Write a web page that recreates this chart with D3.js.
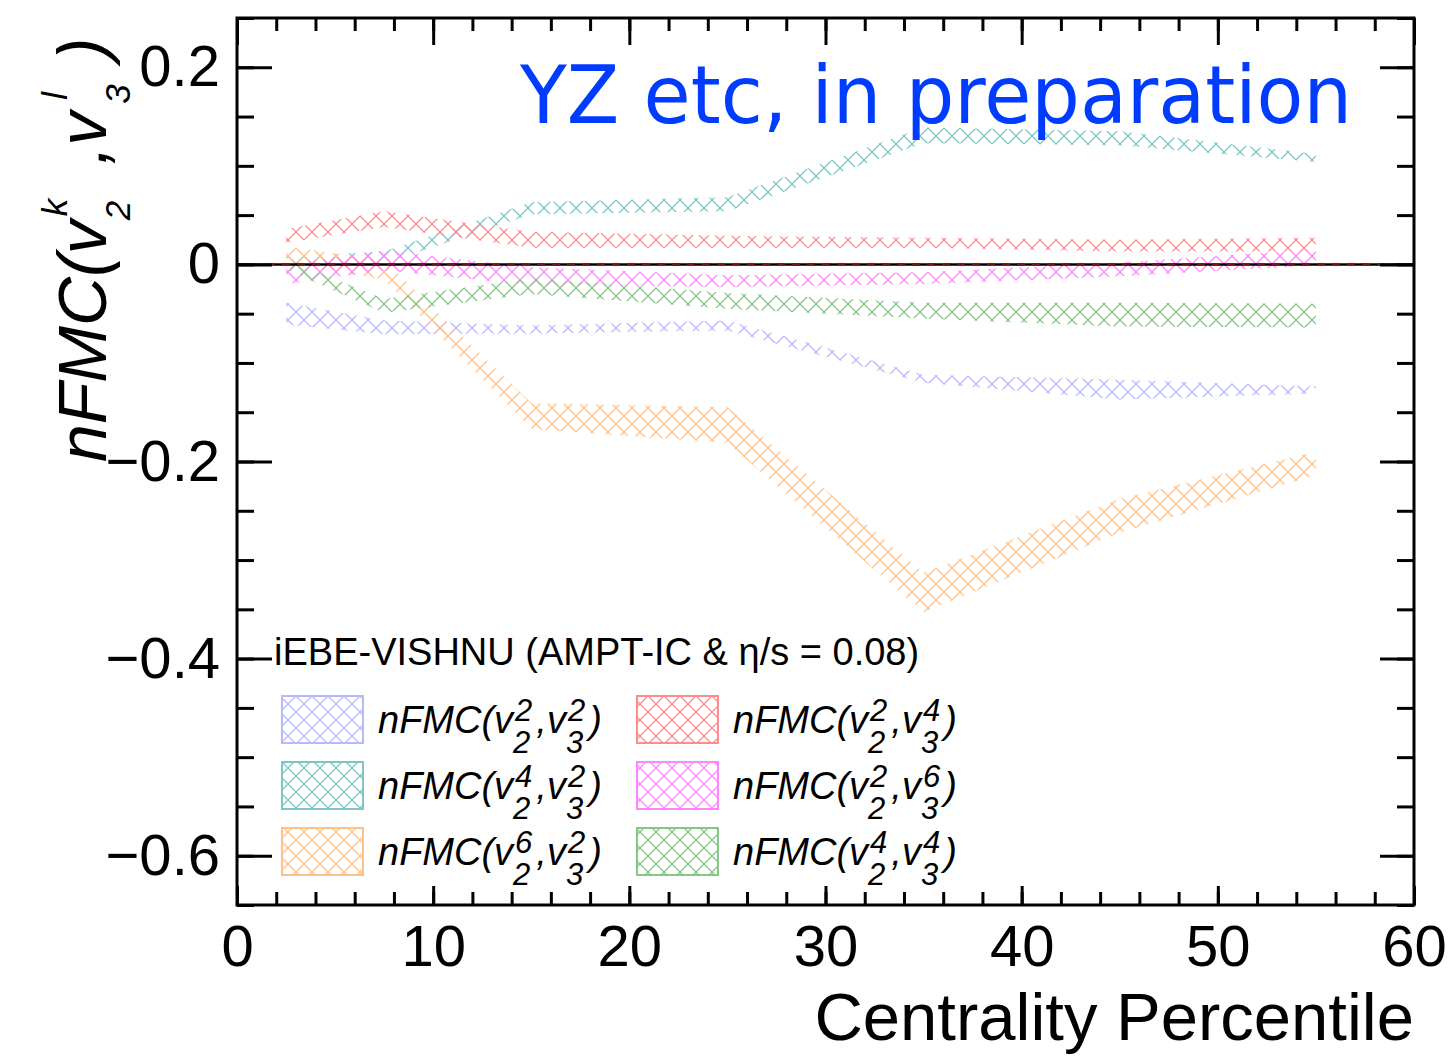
<!DOCTYPE html>
<html>
<head>
<meta charset="utf-8">
<script src="https://cdn.jsdelivr.net/npm/d3@7"></script>
<style>
  body { margin: 0; background: #fff; }
  svg { display: block; }
</style>
</head>
<body>
<svg id="chart" width="1450" height="1056"></svg>
<script>
// Centrality bin centres (percent)
const centrality = [2.5, 7.5, 15, 25, 35, 45, 55];

// Band edges (lower / upper) of each normalised FMC
const v22v32Lo = [-0.061, -0.071, -0.070, -0.067, -0.120, -0.137, -0.131];
const v22v32Hi = [-0.039, -0.057, -0.062, -0.057, -0.112, -0.117, -0.124];

const v24v32Lo = [-0.004, 0.001, 0.051, 0.054, 0.123, 0.121, 0.104];
const v24v32Hi = [0.008, 0.013, 0.063, 0.068, 0.139, 0.135, 0.112];

const v26v32Lo = [0.000, -0.015, -0.167, -0.181, -0.353, -0.272, -0.214];
const v26v32Hi = [0.018, 0.004, -0.141, -0.145, -0.313, -0.238, -0.190];

const v22v34Lo = [0.022, 0.038, 0.017, 0.017, 0.017, 0.013, 0.013];
const v22v34Hi = [0.036, 0.054, 0.033, 0.029, 0.027, 0.025, 0.027];

const v22v36Lo = [-0.020, -0.006, -0.021, -0.023, -0.020, -0.012, -0.001];
const v22v36Hi = [0.000, 0.014, -0.003, -0.011, -0.008, 0.002, 0.015];

const v24v34Lo = [-0.005, -0.049, -0.030, -0.045, -0.055, -0.063, -0.064];
const v24v34Hi = [0.005, -0.035, -0.014, -0.029, -0.039, -0.039, -0.040];

// Moment orders (k for v2, l for v3) of each series, in legend order
const orderV2 = [2, 4, 6, 2, 2, 4];
const orderV3 = [2, 2, 2, 4, 6, 4];

// Axis ticks
const xMajorTicks = [0, 10, 20, 30, 40, 50, 60];
const xMinorTicks = d3.range(0, 61, 2);
const yMajorTicks = [-0.6, -0.4, -0.2, 0, 0.2];
const yMinorTicks = d3.range(-13, 6).map(i => +(i * 0.05).toFixed(2));

const seriesColors = ["#b8b8ff", "#7cc6c6", "#ffbf85", "#ff8c8c", "#ff85ff", "#86c686"];
const bandLo = [v22v32Lo, v24v32Lo, v26v32Lo, v22v34Lo, v22v36Lo, v24v34Lo];
const bandHi = [v22v32Hi, v24v32Hi, v26v32Hi, v22v34Hi, v22v36Hi, v24v34Hi];

const series = bandLo.map((lo, i) => ({
  color: seriesColors[i],
  k: orderV2[i],
  l: orderV3[i],
  points: centrality.map((c, j) => ({ c, lo: lo[j], hi: bandHi[i][j] }))
}));

const svg = d3.select("#chart");
const plotLeft = 237, plotRight = 1414, plotTop = 18, plotBottom = 905;
const x = d3.scaleLinear().domain([0, 60]).range([plotLeft, plotRight]);
const y = d3.scaleLinear().domain([-0.65, 0.25]).range([plotBottom, plotTop]);

const FONT = "'Liberation Sans', Arial, Helvetica, sans-serif";

// Cross-hatch patterns, one per series
const defs = svg.append("defs");
series.forEach((s, i) => {
  const p = defs.append("pattern")
    .attr("id", "hatch" + i)
    .attr("patternUnits", "userSpaceOnUse")
    .attr("width", 16).attr("height", 16);
  p.append("path")
    .attr("d", "M-2,-2L18,18M18,-2L-2,18")
    .attr("stroke", s.color)
    .attr("stroke-width", 1.3)
    .attr("fill", "none");
});

defs.append("clipPath").attr("id", "plotClip")
  .append("rect").attr("x", plotLeft).attr("y", plotTop)
  .attr("width", plotRight - plotLeft).attr("height", plotBottom - plotTop);

// Bands
const area = d3.area()
  .x(d => x(d.c))
  .y0(d => y(d.lo))
  .y1(d => y(d.hi))
  .curve(d3.curveLinear);

const bands = svg.append("g").attr("clip-path", "url(#plotClip)");
series.forEach((s, i) => {
  bands.append("path")
    .datum(s.points)
    .attr("d", area)
    .attr("fill", `url(#hatch${i})`)
    .attr("stroke", "none");
});

// Zero line
bands.append("line")
  .attr("x1", plotLeft).attr("x2", plotRight)
  .attr("y1", y(0)).attr("y2", y(0))
  .attr("stroke", "#000").attr("stroke-width", 2.5);
bands.append("line")
  .attr("x1", plotLeft).attr("x2", plotRight)
  .attr("y1", y(0)).attr("y2", y(0))
  .attr("stroke", "#7a1212").attr("stroke-width", 2.5)
  .attr("stroke-dasharray", "8,7");

// Axes with inward ticks
function styleAxis(g) {
  g.select(".domain").remove();
  g.selectAll(".tick line").attr("stroke", "#000").attr("stroke-width", 3);
  g.selectAll(".tick text").attr("fill", "#000").style("font-family", FONT).style("font-size", "58px");
}

svg.append("g").attr("transform", `translate(0,${plotBottom})`)
  .call(d3.axisBottom(x).tickValues(xMinorTicks).tickSize(-13).tickFormat(""))
  .call(styleAxis);
svg.append("g").attr("transform", `translate(0,${plotBottom})`)
  .call(d3.axisBottom(x).tickValues(xMajorTicks).tickSize(-19).tickPadding(20).tickFormat(d3.format("d")))
  .call(styleAxis);

svg.append("g").attr("transform", `translate(0,${plotTop})`)
  .call(d3.axisTop(x).tickValues(xMinorTicks).tickSize(-13).tickFormat(""))
  .call(styleAxis);
svg.append("g").attr("transform", `translate(0,${plotTop})`)
  .call(d3.axisTop(x).tickValues(xMajorTicks).tickSize(-27).tickFormat(""))
  .call(styleAxis);

const yFmt = d => d === 0 ? "0" : d3.format(".1f")(d);
svg.append("g").attr("transform", `translate(${plotLeft},0)`)
  .call(d3.axisLeft(y).tickValues(yMinorTicks).tickSize(-17).tickFormat(""))
  .call(styleAxis);
svg.append("g").attr("transform", `translate(${plotLeft},0)`)
  .call(d3.axisLeft(y).tickValues(yMajorTicks).tickSize(-35).tickPadding(17).tickFormat(yFmt))
  .call(styleAxis);

svg.append("g").attr("transform", `translate(${plotRight},0)`)
  .call(d3.axisRight(y).tickValues(yMinorTicks).tickSize(-17).tickFormat(""))
  .call(styleAxis);
svg.append("g").attr("transform", `translate(${plotRight},0)`)
  .call(d3.axisRight(y).tickValues(yMajorTicks).tickSize(-34).tickFormat(""))
  .call(styleAxis);

// Frame
svg.append("rect")
  .attr("x", plotLeft).attr("y", plotTop)
  .attr("width", plotRight - plotLeft).attr("height", plotBottom - plotTop)
  .attr("fill", "none").attr("stroke", "#000").attr("stroke-width", 3);

// Text with sub/superscripts, laid out by measuring each piece
function scriptText(g, x0, y0, parts, o) {
  let cx = x0;
  parts.forEach(p => {
    if (p.t !== undefined) {
      const el = g.append("text")
        .attr("x", cx).attr("y", y0)
        .style("font-family", FONT).style("font-style", "italic")
        .style("font-size", o.size + "px")
        .text(p.t);
      cx += el.node().getComputedTextLength() + (p.gap || 0);
    } else {
      const sup = g.append("text")
        .attr("x", cx + o.supDx).attr("y", y0 - o.supUp)
        .style("font-family", FONT).style("font-style", "italic")
        .style("font-size", o.scriptSize + "px")
        .text(p.sup);
      const sub = g.append("text")
        .attr("x", cx + o.subDx).attr("y", y0 + o.subDown)
        .style("font-family", FONT).style("font-style", "italic")
        .style("font-size", o.scriptSize + "px")
        .text(p.sub);
      cx += Math.max(sup.node().getComputedTextLength() + o.supDx,
                     sub.node().getComputedTextLength() + o.subDx) + (p.gap || 0);
    }
  });
  return cx;
}

// Y axis title
const yTitle = svg.append("g").attr("transform", "translate(106,462) rotate(-90)");
scriptText(yTitle, 0, 0, [
  { t: "nFMC(v" },
  { sup: "k", sub: "2", gap: 34 },
  { t: "," },
  { t: "v", gap: 8 },
  { sup: "l", sub: "3", gap: 24 },
  { t: ")" }
], { size: 68, scriptSize: 35, supUp: 39, subDown: 24, supDx: 4, subDx: 0 });

// X axis title
svg.append("text")
  .attr("x", plotRight).attr("y", 1040)
  .attr("text-anchor", "end")
  .style("font-family", FONT).style("font-size", "67px")
  .text("Centrality Percentile");

// Status note
svg.append("text")
  .attr("x", 520).attr("y", 123)
  .attr("textLength", 832).attr("lengthAdjust", "spacingAndGlyphs")
  .style("font-family", "'DejaVu Sans', sans-serif").style("font-size", "80px")
  .attr("fill", "#003cff")
  .text("YZ etc, in preparation");

// Legend
const legend = svg.append("g");
legend.append("text")
  .attr("x", 274).attr("y", 665)
  .style("font-family", FONT).style("font-size", "38px")
  .text("iEBE-VISHNU (AMPT-IC & η/s = 0.08)");

series.forEach((s, i) => {
  const col = Math.floor(i / 3), row = i % 3;
  const bx = col === 0 ? 282 : 637;
  const by = 696 + row * 66;
  legend.append("rect")
    .attr("x", bx).attr("y", by)
    .attr("width", 81).attr("height", 47)
    .attr("fill", `url(#hatch${i})`)
    .attr("stroke", s.color).attr("stroke-width", 2);
  scriptText(legend, bx + 96, by + 37, [
    { t: "nFMC(v" },
    { sup: String(s.k), sub: "2", gap: 4 },
    { t: ",v" },
    { sup: String(s.l), sub: "3", gap: 4 },
    { t: ")" }
  ], { size: 38, scriptSize: 31, supUp: 12, subDown: 20, supDx: 2, subDx: 0 });
});
</script>
</body>
</html>
